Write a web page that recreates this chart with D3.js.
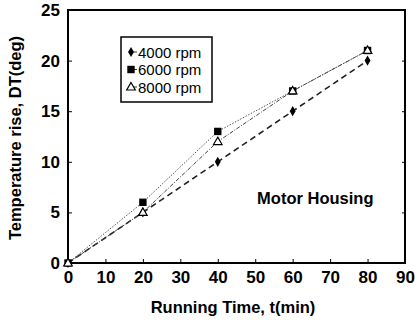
<!DOCTYPE html>
<html>
<head>
<meta charset="utf-8">
<script src="https://cdn.jsdelivr.net/npm/d3@7"></script>
<style>
  body { margin: 0; background: #fff; }
  svg { font-family: "Liberation Sans", Arial, sans-serif; }
</style>
</head>
<body>
<svg id="chart" width="415" height="321"></svg>
<script>
// data
const times = [0, 20, 40, 60, 80];
const rpm4000 = [0, 5, 10, 15, 20];
const rpm6000 = [0, 6, 13, 17, 21];
const rpm8000 = [0, 5, 12, 17, 21];
const xTicks = [0, 10, 20, 30, 40, 50, 60, 70, 80, 90];
const yTicks = [0, 5, 10, 15, 20, 25];

const series = [
  {name: '4000 rpm', values: rpm4000, marker: 'diamond', dash: '6,4', width: 1.6, color: '#222'},
  {name: '6000 rpm', values: rpm6000, marker: 'square', dash: '1.5,1.5', width: 1, color: '#555'},
  {name: '8000 rpm', values: rpm8000, marker: 'triangle', dash: '4,1.5,1,1.5', width: 1, color: '#444'}
];

const margin = {top: 10, right: 10, bottom: 58, left: 68};
const width = 415, height = 321;
const innerW = width - margin.left - margin.right;
const innerH = height - margin.top - margin.bottom;

const svg = d3.select('#chart');
const g = svg.append('g').attr('transform', `translate(${margin.left},${margin.top})`);

const x = d3.scaleLinear().domain([0, 90]).range([0, innerW]);
const y = d3.scaleLinear().domain([0, 25]).range([innerH, 0]);

// axes with inward ticks
const xAxis = g.append('g').attr('transform', `translate(0,${innerH})`)
  .call(d3.axisBottom(x).tickValues(xTicks).tickSizeInner(-4).tickSizeOuter(0).tickPadding(8));
const yAxis = g.append('g')
  .call(d3.axisLeft(y).tickValues(yTicks).tickSizeInner(-4).tickSizeOuter(0).tickPadding(8));
g.append('g').attr('transform', `translate(${innerW},0)`)
  .call(d3.axisRight(y).tickValues(yTicks).tickSizeInner(-3).tickSizeOuter(0).tickFormat(''));

[xAxis, yAxis].forEach(a => {
  a.select('.domain').remove();
  a.selectAll('text').attr('font-size', 17).attr('font-weight', 'bold').attr('fill', '#000');
  a.selectAll('line').attr('stroke', '#000');
});

// frame
g.append('rect').attr('width', innerW).attr('height', innerH)
  .attr('fill', 'none').attr('stroke', '#000').attr('stroke-width', 2);

const line = d3.line().x((d, i) => x(times[i])).y(d => y(d));

series.forEach(s => {
  g.append('path').datum(s.values)
    .attr('d', line)
    .attr('fill', 'none')
    .attr('stroke', s.color)
    .attr('stroke-width', s.width)
    .attr('stroke-dasharray', s.dash);
});

function drawMarker(sel, type, cx, cy) {
  if (type === 'diamond') {
    sel.append('path').attr('d', d3.symbol(d3.symbolDiamond, 30)())
      .attr('transform', `translate(${cx},${cy})`).attr('fill', '#000');
  } else if (type === 'square') {
    sel.append('path').attr('d', d3.symbol(d3.symbolSquare, 55)())
      .attr('transform', `translate(${cx},${cy})`).attr('fill', '#000');
  } else {
    sel.append('path').attr('d', d3.symbol(d3.symbolTriangle, 32)())
      .attr('transform', `translate(${cx},${cy + 0.5})`)
      .attr('fill', '#fff').attr('stroke', '#000').attr('stroke-width', 1.2);
  }
}

series.forEach(s => {
  s.values.forEach((v, i) => drawMarker(g, s.marker, x(times[i]), y(v)));
});

// legend
const lg = svg.append('g').attr('transform', 'translate(121,37)');
lg.append('rect').attr('width', 91).attr('height', 65)
  .attr('fill', '#fff').attr('stroke', '#000').attr('stroke-width', 1.5);
series.forEach((s, i) => {
  const yy = 15 + i * 17.5;
  lg.append('line').attr('x1', 10).attr('x2', 16).attr('y1', yy).attr('y2', yy)
    .attr('stroke', '#000').attr('stroke-width', 0.8);
  drawMarker(lg, s.marker, 10, yy);
  lg.append('text').attr('x', 17).attr('y', yy + 5.5)
    .attr('font-size', 15).attr('fill', '#000').text(s.name);
});

// annotation
g.append('text').attr('x', x(50.5)).attr('y', y(5.8))
  .attr('font-size', 16.5).attr('font-weight', 'bold').attr('fill', '#000').text('Motor Housing');

// axis titles
svg.append('text').attr('x', 233).attr('y', 313).attr('text-anchor', 'middle')
  .attr('font-size', 16.5).attr('font-weight', 'bold').attr('fill', '#000').text('Running Time, t(min)');
svg.append('text').attr('transform', 'translate(21,138) rotate(-90)')
  .attr('text-anchor', 'middle').attr('font-size', 16.5).attr('font-weight', 'bold').attr('fill', '#000')
  .text('Temperature rise, DT(deg)');
</script>
</body>
</html>
